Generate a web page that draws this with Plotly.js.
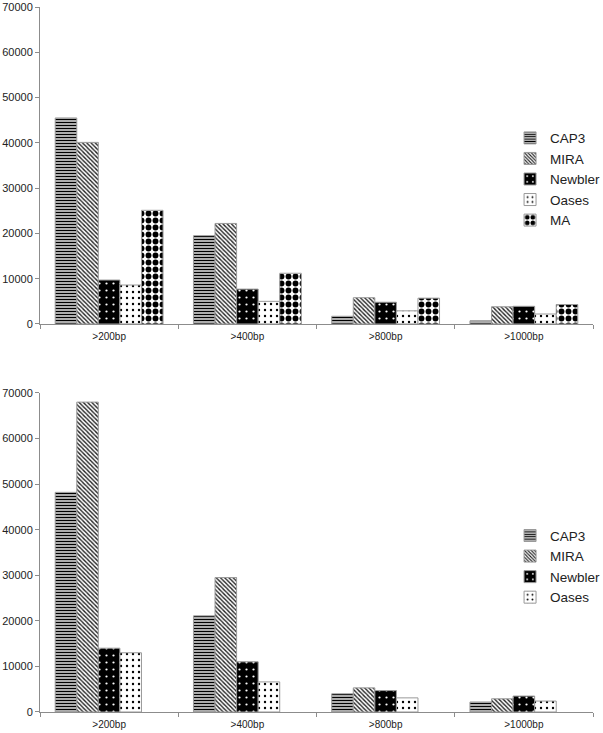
<!DOCTYPE html>
<html>
<head>
<meta charset="utf-8">
<script src="https://cdn.plot.ly/plotly-3.0.1.min.js"></script>
<style>html,body{margin:0;padding:0;background:#fff;}#chart{width:603px;height:733px;}</style>
</head>
<body>
<div id="chart"></div>
<script>
// Categories
const categories = [">200bp", ">400bp", ">800bp", ">1000bp"];
const seriesNames = ["CAP3", "MIRA", "Newbler", "Oases", "MA"];

// Top chart values
const topCAP3    = [45500, 19500, 1700, 700];
const topMIRA    = [40100, 22200, 5800, 3800];
const topNewbler = [9700, 7700, 4800, 3900];
const topOases   = [8600, 5000, 2900, 2200];
const topMA      = [25100, 11200, 5700, 4300];

// Bottom chart values (no MA series)
const botCAP3    = [48200, 21100, 4000, 2200];
const botMIRA    = [68000, 29500, 5300, 2900];
const botNewbler = [14000, 11000, 4700, 3500];
const botOases   = [13000, 6600, 3100, 2400];
const botMA      = [null, null, null, null];

const patterns = {
  CAP3:    {shape: "-",  size: 3, solidity: 0.55, fgcolor: "#000", bgcolor: "#fff", fillmode: "replace"},
  MIRA:    {shape: "\\", size: 3, solidity: 0.45, fgcolor: "#222", bgcolor: "#fff", fillmode: "replace"},
  Newbler: {shape: ".",  size: 7, solidity: 0.08, fgcolor: "#fff", bgcolor: "#000", fillmode: "replace"},
  Oases:   {shape: ".",  size: 6, solidity: 0.12, fgcolor: "#000", bgcolor: "#fff", fillmode: "replace"},
  MA:      {shape: ".",  size: 7, solidity: 0.55, fgcolor: "#000", bgcolor: "#fff", fillmode: "replace"}
};

function mk(name, vals, xa, ya, leg, show) {
  return {
    type: "bar", name: name, x: categories, y: vals,
    xaxis: xa, yaxis: ya, legend: leg, showlegend: show,
    marker: {color: "#fff", pattern: patterns[name], line: {color: "#9a9a9a", width: 1}},
    hoverinfo: "skip"
  };
}

const topVals = [topCAP3, topMIRA, topNewbler, topOases, topMA];
const botVals = [botCAP3, botMIRA, botNewbler, botOases, botMA];
const data = [];
seriesNames.forEach((n, i) => data.push(mk(n, topVals[i], "x", "y", "legend", true)));
seriesNames.forEach((n, i) => data.push(mk(n, botVals[i], "x2", "y2", "legend2", n !== "MA")));

const axFont = {family: "Liberation Sans, Arial, sans-serif", size: 11, color: "#222"};
const yax = {
  range: [0, 70000], dtick: 10000, tickformat: "d", showgrid: false, zeroline: false,
  showline: true, linecolor: "#8c8c8c", linewidth: 1, ticks: "outside", ticklen: 4,
  tickcolor: "#8c8c8c", tickfont: axFont, fixedrange: true
};
const xax = {
  showline: true, linecolor: "#8c8c8c", linewidth: 1, ticks: "outside", ticklen: 4,
  tickcolor: "#8c8c8c", tickson: "boundaries", showgrid: false, ticklabelstandoff: 3,
  tickfont: {family: "Liberation Sans, Arial, sans-serif", size: 10, color: "#222"}, fixedrange: true
};

const legFont = {family: "Liberation Sans, Arial, sans-serif", size: 13.5, color: "#222"};
const layout = {
  width: 603, height: 733,
  margin: {l: 40, r: 10, t: 7, b: 21, autoexpand: false},
  paper_bgcolor: "#fff", plot_bgcolor: "#fff",
  barmode: "group", bargap: 0.22, bargroupgap: 0,
  xaxis: Object.assign({anchor: "y", domain: [0, 1]}, xax),
  yaxis: Object.assign({anchor: "x", domain: [0.5504, 1]}, yax),
  xaxis2: Object.assign({anchor: "y2", domain: [0, 1]}, xax),
  yaxis2: Object.assign({anchor: "x2", domain: [0, 0.4525]}, yax),
  legend: {x: 0.85, y: 0.836, xanchor: "left", yanchor: "top", font: legFont, bgcolor: "rgba(0,0,0,0)", itemwidth: 30},
  legend2: {x: 0.85, y: 0.272, xanchor: "left", yanchor: "top", font: legFont, bgcolor: "rgba(0,0,0,0)", itemwidth: 30},
  showlegend: true
};

Plotly.newPlot("chart", data, layout, {displayModeBar: false, staticPlot: true});
</script>
</body>
</html>
